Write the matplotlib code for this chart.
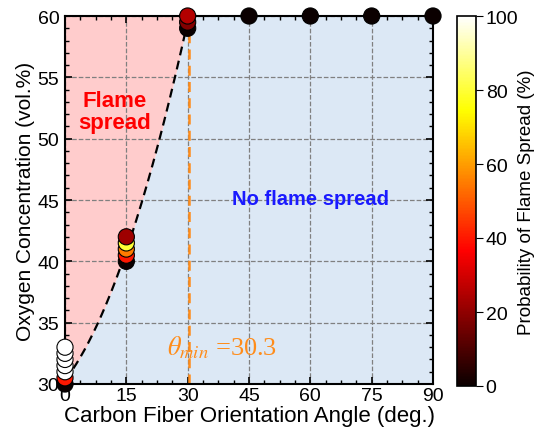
import matplotlib.pyplot as plt
import numpy as np
from matplotlib.ticker import MultipleLocator

plt.rcParams['font.family'] = ['Liberation Sans', 'DejaVu Sans']

# measured points: angle, oxygen concentration, probability of flame spread (%)
angle = [0, 0, 0, 0, 0, 0, 0,
         15, 15, 15, 15, 15,
         30, 30, 30,
         45, 60, 75, 90]
oxygen = [30, 30.5, 31, 31.5, 32, 32.5, 33,
          40, 40.5, 41, 41.5, 42,
          59, 59.5, 60,
          60, 60, 60, 60]
prob = [0, 40, 100, 100, 100, 100, 100,
        0, 40, 55, 80, 22,
        0, 18, 25,
        0, 0, 0, 0]

# boundary curve coefficients (quadratic fit)
curve_coef = [30.3, 0.435, 0.018]
theta_min = 30.3

fig = plt.figure(figsize=(5.37, 4.35), dpi=100)
ax = fig.add_axes([65 / 537, 50 / 435, 368 / 537, 368 / 435])
cax = fig.add_axes([457 / 537, 48 / 435, 19 / 537, 370 / 435])

xc = np.linspace(0, theta_min, 200)
yc = curve_coef[0] + curve_coef[1] * xc + curve_coef[2] * xc ** 2
yc = np.minimum(yc, 60)

ax.fill_between(xc, 30, yc, color='#dce8f5', lw=0, zorder=0)
ax.fill_between(xc, yc, 60, color='#ffcccc', lw=0, zorder=0)
ax.fill_between([theta_min, 90], 30, 60, color='#dce8f5', lw=0, zorder=0)

ax.plot(xc, yc, color='black', ls=(0, (4, 2.5)), lw=1.6, zorder=3)
ax.axvline(theta_min, color='#ff8c1a', ls=(0, (4, 2.5)), lw=1.8, zorder=3)

sc = ax.scatter(angle, oxygen, c=prob, cmap='hot', vmin=0, vmax=100,
                s=135, edgecolors='black', linewidths=0.8, zorder=5, clip_on=False)

ax.set_xlim(0, 90)
ax.set_ylim(30, 60)
ax.xaxis.set_major_locator(MultipleLocator(15))
ax.xaxis.set_minor_locator(MultipleLocator(3.75))
ax.yaxis.set_major_locator(MultipleLocator(5))
ax.yaxis.set_minor_locator(MultipleLocator(1))
ax.tick_params(which='both', direction='in', top=True, right=True, labelsize=14)
ax.tick_params(which='major', length=5, width=1.2, pad=2)
ax.tick_params(which='minor', length=3, width=1)
ax.tick_params(axis='y', which='major', pad=4)
ax.grid(True, which='major', color='gray', ls='--', lw=0.9)
ax.set_axisbelow(False)
for line in ax.get_xgridlines() + ax.get_ygridlines():
    line.set_zorder(1)
for s in ax.spines.values():
    s.set_linewidth(1.5)
    s.set_zorder(4)

ax.set_xlabel('Carbon Fiber Orientation Angle (deg.)', fontsize=16, labelpad=1)
ax.set_ylabel('Oxygen Concentration (vol.%)', fontsize=15, labelpad=2)

ax.text(12.2, 52.2, 'Flame\nspread', color='red', fontsize=16, fontweight='bold',
        ha='center', va='center', linespacing=1.05)
ax.text(60, 45.1, 'No flame spread', color='#1a1aff', fontsize=14.5, fontweight='bold',
        ha='center', va='center')
ax.text(24.9, 32.4, r'$\theta_{min}$ =30.3', color='#ff8c1a', fontsize=19,
        family='Liberation Serif', math_fontfamily='stix', ha='left', va='baseline')

cb = fig.colorbar(sc, cax=cax)
cb.set_ticks([0, 20, 40, 60, 80, 100])
cb.ax.tick_params(labelsize=14, direction='out', length=5, pad=2)
cb.outline.set_linewidth(1.2)
cb.set_label('Probability of Flame Spread (%)', fontsize=13.5, labelpad=0)

fig.savefig('out.png', dpi=100)
